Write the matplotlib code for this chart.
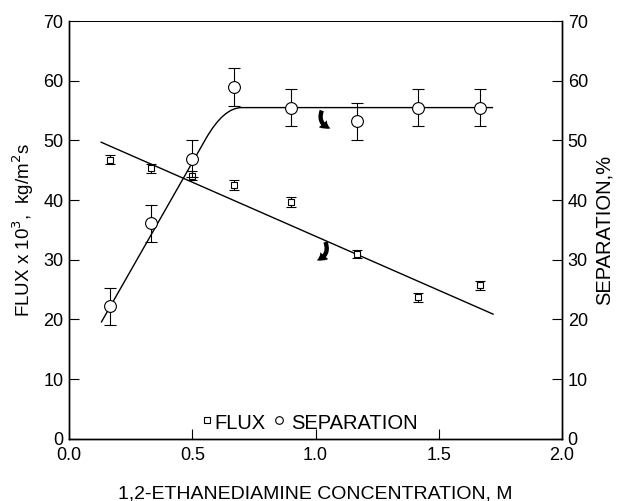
import matplotlib
matplotlib.use("Agg")
import matplotlib.pyplot as plt
from matplotlib.path import Path
from matplotlib.patches import PathPatch, FancyArrowPatch

plt.rcParams['font.family'] = ['Liberation Sans', 'DejaVu Sans']

# concentration, M
conc = [0.167, 0.333, 0.5, 0.667, 0.9, 1.167, 1.417, 1.667]

# flux x 10^3, kg/m^2 s
flux = [46.8, 45.3, 44.1, 42.5, 39.7, 31.0, 23.7, 25.7]
flux_err = [0.8, 0.8, 0.8, 0.8, 0.8, 0.7, 0.8, 0.8]

# separation, %
sep = [22.2, 36.1, 46.9, 59.0, 55.5, 53.2, 55.5, 55.5]
sep_err = [3.1, 3.1, 3.1, 3.2, 3.1, 3.1, 3.1, 3.1]

# fitted trend lines
flux_fit_x = [0.13, 1.72]
flux_fit_y = [49.7, 20.9]
sep_fit_x = [0.13, 0.555, 0.627, 0.70, 1.72]
sep_fit_y = [19.5, 50.3, 55.5, 55.5, 55.5]

fig = plt.figure(figsize=(6.17, 5.01), dpi=100)
ax = fig.add_axes([0.112, 0.124, 0.799, 0.834])
ax2 = ax.twinx()

for a in (ax, ax2):
    a.set_xlim(0, 2.0)
    a.set_ylim(0, 70)
    for s in a.spines.values():
        s.set_linewidth(1.0)
    a.spines['top'].set_linewidth(0.7)

ax.set_xticks([0, 0.5, 1.0, 1.5, 2.0])
ax.set_xticklabels(['0.0', '0.5', '1.0', '1.5', '2.0'])
ax.set_yticks(range(0, 71, 10))
ax2.set_yticks(range(0, 71, 10))
ax.tick_params(axis='both', direction='in', length=7, width=0.8,
               labelsize=13, pad=4)
ax.tick_params(axis='x', pad=6)
ax2.tick_params(axis='y', direction='in', length=7, width=0.8,
                labelsize=13, pad=4)

ax.set_xlabel('1,2-ETHANEDIAMINE CONCENTRATION, M', fontsize=14,
              labelpad=15)
ax.set_ylabel(r'FLUX x 10$^3$,  kg/m$^2$s', fontsize=13.5, labelpad=5)
ax2.set_ylabel('SEPARATION,%', fontsize=14.5, labelpad=5)

# flux points and fit
ax.errorbar(conc, flux, yerr=flux_err, fmt='s', ms=4.5, mfc='white',
            mec='black', mew=0.8, ecolor='black', elinewidth=0.8,
            capsize=3.6, capthick=0.8, zorder=4)
ax.plot(flux_fit_x, flux_fit_y, color='black', lw=1.0, zorder=3)

# separation points and fit
ax2.errorbar(conc, sep, yerr=sep_err, fmt='o', ms=8.5, mfc='white',
             mec='black', mew=0.8, ecolor='black', elinewidth=0.8,
             capsize=4, capthick=0.8, zorder=4)
codes = [Path.MOVETO, Path.LINETO, Path.CURVE3, Path.CURVE3, Path.LINETO]
sep_path = Path(list(zip(sep_fit_x, sep_fit_y)), codes)
ax2.add_patch(PathPatch(sep_path, fill=False, color='black', lw=1.0,
                        zorder=3))

# curved arrows pointing to the respective axes
arrow_style = 'simple,head_length=0.9,head_width=1.1,tail_width=0.45'
ax2.add_patch(FancyArrowPatch((1.025, 55.0), (1.06, 52.0),
                              connectionstyle='arc3,rad=0.5',
                              arrowstyle=arrow_style, mutation_scale=7,
                              shrinkA=0, shrinkB=0,
                              color='black', lw=0, zorder=5))
ax.add_patch(FancyArrowPatch((1.04, 33.0), (1.005, 29.9),
                             connectionstyle='arc3,rad=-0.5',
                             arrowstyle=arrow_style, mutation_scale=7,
                             shrinkA=0, shrinkB=0,
                             color='black', lw=0, zorder=5))

# legend written inside the plot
ax.plot([0.558], [3.2], 's', ms=4.5, mfc='white', mec='black', mew=0.8)
ax.text(0.59, 2.6, 'FLUX', fontsize=14.5, va='center', ha='left')
ax.plot([0.85], [3.1], 'o', ms=5.5, mfc='white', mec='black', mew=0.8)
ax.text(0.9, 2.6, 'SEPARATION', fontsize=14.5, va='center', ha='left')

fig.savefig('out.png', dpi=100)
